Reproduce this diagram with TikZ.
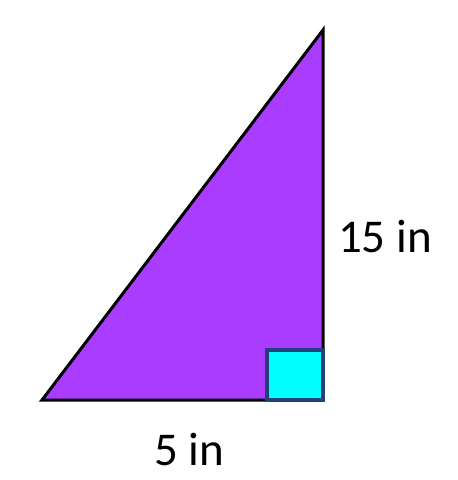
\documentclass[tikz,border=0pt]{standalone}
\usepackage{fontspec}
\setmainfont{Carlito}
\usetikzlibrary{positioning}
\definecolor{trifill}{HTML}{A93CFF}
\definecolor{sqfill}{HTML}{00FFFF}
\definecolor{sqedge}{HTML}{22407F}

\begin{document}
\begin{tikzpicture}[x=1pt,y=-1pt,
  every node/.style={font=\fontsize{47}{56}\selectfont},
  tri/.style={draw=black,fill=trifill,line width=3pt},
  rangle/.style={draw=sqedge,fill=sqfill,line width=4pt},
  dimlabel/.style={inner sep=0pt,anchor=base}]
\useasboundingbox (0,0) rectangle (458,480);
\coordinate (bl) at (42,400);
\coordinate (br) at (323,400);
\coordinate (top) at (323,30);
\draw[tri] (bl) -- (br) -- (top) -- cycle;
\draw[rangle] (267,350) rectangle (br);
\node[dimlabel] (hlabel) at (385,252) {15 in};
\node[dimlabel] (blabel) at (189,465) {5 in};
\end{tikzpicture}
\end{document}
